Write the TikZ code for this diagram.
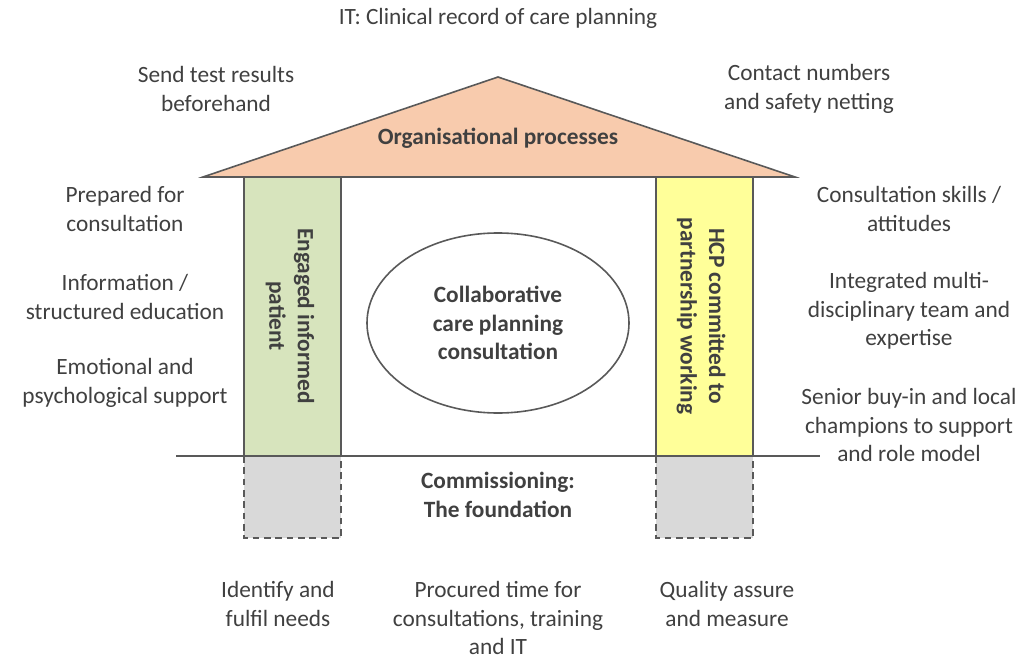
\documentclass[tikz,border=0pt]{standalone}
\usepackage{fontspec}
\setmainfont{Carlito}
\usetikzlibrary{positioning}
\usetikzlibrary{shapes.geometric}

\definecolor{ink}{HTML}{404040}
\definecolor{edge}{HTML}{595959}
\definecolor{roofpeach}{HTML}{F8CBAD}
\definecolor{pillargreen}{HTML}{D7E4BD}
\definecolor{pillaryellow}{HTML}{FFFF99}
\definecolor{footgray}{HTML}{D9D9D9}

\tikzset{
  note/.style={text=ink, align=center, inner sep=0pt,
    font=\fontsize{17.5}{21.4}\selectfont},
  boldnote/.style={note, font=\fontsize{17.5}{21.4}\selectfont\bfseries},
  wall/.style={draw=edge, line width=1.2pt},
  footing/.style={draw=edge, line width=1.2pt, fill=footgray,
    dash pattern=on 5pt off 3.5pt},
}

\begin{document}
\begin{tikzpicture}[x=0.75pt,y=-0.75pt]
\useasboundingbox (0,0) rectangle (1022,660);

% roof
\draw[wall, fill=roofpeach] (203,177) -- (498,77) -- (795,177) -- cycle;
\node[boldnote] (roof) at (498,138) {Organisational processes};

% pillars and their footings
\draw[wall, fill=pillargreen] (244,177) rectangle (341,456);
\draw[footing] (244,456) rectangle (341,538);
\begin{scope}[xshift=309pt]
\draw[wall, fill=pillaryellow] (244,177) rectangle (341,456);
\draw[footing] (244,456) rectangle (341,538);
\end{scope}
\node[boldnote, rotate=-90] (patient) at (290,316) {Engaged informed\\patient};
\node[boldnote, rotate=-90] (hcp) at (701,316) {HCP committed to\\partnership working};

% ground
\coordinate (gl) at (176,456);
\coordinate (gr) at (820,456);
\draw[wall] (gl) -- (gr);

% centre
\node[boldnote, ellipse, draw=edge, line width=1.2pt, minimum width=196.5pt,
  minimum height=135pt] (consult) at (498,323)
  {Collaborative\\care planning\\consultation};
\node[boldnote] (found) at (498,495) {Commissioning:\\The foundation};

% top texts
\node[note] (it) at (498,18) {IT: Clinical record of care planning};
\node[note] (tests) at (216,89) {Send test results\\beforehand};
\node[note] (contact) at (809,89) {Contact numbers\\and safety netting};

% patient side
\node[note] (prep) at (125,209) {Prepared for\\consultation};
\node[note] (info) at (125,297) {Information /\\structured education};
\node[note] (emo) at (125,383) {Emotional and\\psychological support};

% professional side
\node[note] (skills) at (909,209) {Consultation skills /\\attitudes};
\node[note] (mdt) at (909,311) {Integrated multi-\\disciplinary team and\\expertise};
\node[note] (senior) at (909,425) {Senior buy-in and local\\champions to support\\and role model};

% below ground
\node[note] (needs) at (278,604) {Identify and\\fulfil needs};
\node[note] (time) at (498,618) {Procured time for\\consultations, training\\and IT};
\node[note] (quality) at (727,604) {Quality assure\\and measure};

\end{tikzpicture}
\end{document}
